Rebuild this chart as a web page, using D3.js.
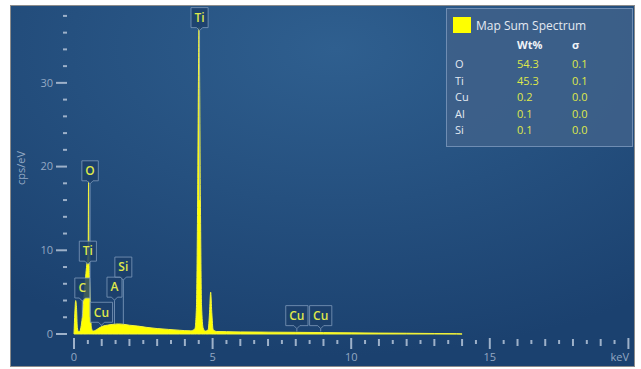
<!DOCTYPE html>
<html><head><meta charset="utf-8">
<script src="https://cdn.jsdelivr.net/npm/d3@7/dist/d3.min.js"></script>
<style>html,body{margin:0;padding:0;background:#fff;}svg{display:block;}</style>
</head><body>
<svg id="chart" width="641" height="369"></svg>
<script>
// ---- data ----
const energy = [0.00,0.03,0.06,0.09,0.12,0.16,0.20,0.25,0.30,0.35,0.40,0.44,0.48,0.51,0.525,0.54,0.57,0.60,0.64,0.68,0.75,0.85,0.95,1.05,1.2,1.4,1.6,1.8,2.0,2.3,2.6,3.0,3.4,3.8,4.2,4.36,4.42,4.46,4.51,4.56,4.60,4.66,4.74,4.84,4.89,4.93,4.97,5.02,5.15,5.5,6.0,7.0,8.0,9.0,10.0,11.0,12.0,13.0,13.8,14.0];
const cps    = [0.0, 2.5, 4.0, 3.2, 0.8, 0.3, 0.3, 0.8, 2.0, 4.0, 6.0, 7.6, 8.8, 9.6, 18.2,9.4, 5.5, 2.0, 0.6, 0.35,0.4, 0.6, 0.8, 0.95,1.05,1.15,1.2, 1.15,1.05,0.95,0.8, 0.65,0.55,0.45,0.38,0.6, 3.5, 16.0,36.6,16.0,3.5, 0.7, 0.35,0.5, 2.6, 5.0, 2.6, 0.5, 0.3, 0.28,0.25,0.22,0.2, 0.17,0.14,0.11,0.09,0.06,0.03,0.0];

const peakNames   = ["O","Ti","C","Cu","A","Si","Ti","Cu","Cu"];
const peakEnergy  = [0.58,0.5,0.3,0.99,1.46,1.78,4.53,8.04,8.9];
const peakBoxBase = [18.3,8.7,4.3,1.4,4.4,6.8,36.6,1.0,1.0];

const xTickLabels = ["0","5","10","15"];
const yTickLabels = ["0","10","20","30"];

const legendTitle = "Map Sum Spectrum";
const legendElements = ["O","Ti","Cu","Al","Si"];
const legendWt = ["54.3","45.3","0.2","0.1","0.1"];
const legendSigma = ["0.1","0.1","0.0","0.0","0.0"];

// ---- drawing ----
const svg = d3.select("#chart");
const defs = svg.append("defs");
const grad = defs.append("radialGradient").attr("id","bg")
  .attr("cx","52%").attr("cy","12%").attr("r","85%");
grad.append("stop").attr("offset","0%").attr("stop-color","#2f5f8f");
grad.append("stop").attr("offset","100%").attr("stop-color","#1b416f");

svg.append("rect").attr("x",10.5).attr("y",5.5).attr("width",624).attr("height",361)
  .attr("fill","url(#bg)").attr("stroke","#8c8c8c").attr("stroke-width",1);

const x = d3.scaleLinear().domain([0,20]).range([74,628.4]);
const y = d3.scaleLinear().domain([0,38]).range([334,15.9]);

const tickCol = "#9eb1c9";
const font = "'Open Sans','Noto Sans',sans-serif";

// y ticks
const yg = svg.append("g");
d3.range(0,39,2).forEach(v=>{
  const major = v%10===0;
  yg.append("line").attr("x1",major?56:63).attr("x2",67)
    .attr("y1",y(v)).attr("y2",y(v)).attr("stroke",tickCol).attr("stroke-width",2);
});
yTickLabels.forEach(t=>{
  yg.append("text").attr("x",53).attr("y",y(+t)).attr("dy","0.35em")
    .attr("text-anchor","end").attr("fill","#93a8c3").attr("font-family",font)
    .attr("font-size",11).text(t);
});
svg.append("text").attr("transform","translate(25,168) rotate(-90)")
  .attr("text-anchor","middle").attr("fill","#93a8c3").attr("font-family",font)
  .attr("font-size",11).text("cps/eV");

// x ticks
const xg = svg.append("g");
d3.range(0,40.5,1).forEach(i=>{
  const v=i/2;
  let y1=340, y2=344;
  if(v%5===0){y1=338;y2=349;} else if(Number.isInteger(v)){y1=339;y2=346;}
  xg.append("line").attr("x1",x(v)).attr("x2",x(v)).attr("y1",y1).attr("y2",y2)
    .attr("stroke",tickCol).attr("stroke-width",2);
});
xTickLabels.forEach(t=>{
  xg.append("text").attr("x",x(+t)).attr("y",361).attr("text-anchor","middle")
    .attr("fill","#93a8c3").attr("font-family",font).attr("font-size",11).text(t);
});
xg.append("text").attr("x",629).attr("y",361).attr("text-anchor","end")
  .attr("fill","#93a8c3").attr("font-family",font).attr("font-size",11).text("keV");

// spectrum
const pts = energy.map((e,i)=>[e,cps[i]]);
const area = d3.area().x(d=>x(d[0])).y0(y(0)).y1(d=>y(d[1])).curve(d3.curveMonotoneX);
svg.append("path").datum(pts).attr("d",area).attr("fill","#ffff00")
  .attr("stroke","#f4f43a").attr("stroke-width",1);

// peak labels
const lg = svg.append("g");
peakNames.forEach((n,i)=>{
  const cx = x(peakEnergy[i]);
  const by = y(peakBoxBase[i]);
  const h = 20;
  const tmp = lg.append("text").attr("font-family",font).attr("font-size",12).attr("font-weight",600).text(n);
  const w = Math.max(15, tmp.node().getComputedTextLength()+7);
  tmp.remove();
  // leader line
  const idx = d3.bisector(d=>d).left(energy, peakEnergy[i]);
  const v = cps[Math.min(idx,cps.length-1)];
  if (y(v) > by+3) {
    lg.append("line").attr("x1",cx).attr("x2",cx).attr("y1",by+3).attr("y2",y(Math.max(v,0.3)))
      .attr("stroke","#8aa4c4").attr("stroke-opacity",0.75).attr("stroke-width",1);
  }
  lg.append("path")
    .attr("d",`M${cx-w/2},${by-h} H${cx+w/2} V${by} H${cx+3} L${cx},${by+3} L${cx-3},${by} H${cx-w/2} Z`)
    .attr("fill","#1c3f6b").attr("fill-opacity",0.85)
    .attr("stroke","#7e9aba").attr("stroke-opacity",0.8).attr("stroke-width",1);
  lg.append("text").attr("x",cx).attr("y",by-h/2).attr("dy","0.36em").attr("text-anchor","middle")
    .attr("fill","#dfe84a").attr("font-family",font).attr("font-size",12).attr("font-weight",600).text(n);
});

// legend
const leg = svg.append("g");
leg.append("rect").attr("x",446.5).attr("y",8.5).attr("width",186).attr("height",138)
  .attr("fill","#3e6189").attr("fill-opacity",0.9).attr("stroke","#6f8db3").attr("stroke-width",1);
leg.append("rect").attr("x",453).attr("y",17).attr("width",18).attr("height",16).attr("fill","#ffff00");
leg.append("text").attr("x",476).attr("y",30).attr("fill","#e3e9f1").attr("font-family",font)
  .attr("font-size",12).text(legendTitle);
leg.append("text").attr("x",517).attr("y",49).attr("fill","#f0f3f7").attr("font-family",font)
  .attr("font-size",11).attr("font-weight",700).text("Wt%");
leg.append("text").attr("x",572).attr("y",49).attr("fill","#f0f3f7").attr("font-family",font)
  .attr("font-size",11).attr("font-weight",700).text("σ");
legendElements.forEach((el,i)=>{
  const yy = 68 + i*16.6;
  leg.append("text").attr("x",455).attr("y",yy).attr("fill","#e3e9f1").attr("font-family",font).attr("font-size",11).text(el);
  leg.append("text").attr("x",517).attr("y",yy).attr("fill","#dfe84a").attr("font-family",font).attr("font-size",11).text(legendWt[i]);
  leg.append("text").attr("x",572).attr("y",yy).attr("fill","#dfe84a").attr("font-family",font).attr("font-size",11).text(legendSigma[i]);
});
</script>
</body></html>
